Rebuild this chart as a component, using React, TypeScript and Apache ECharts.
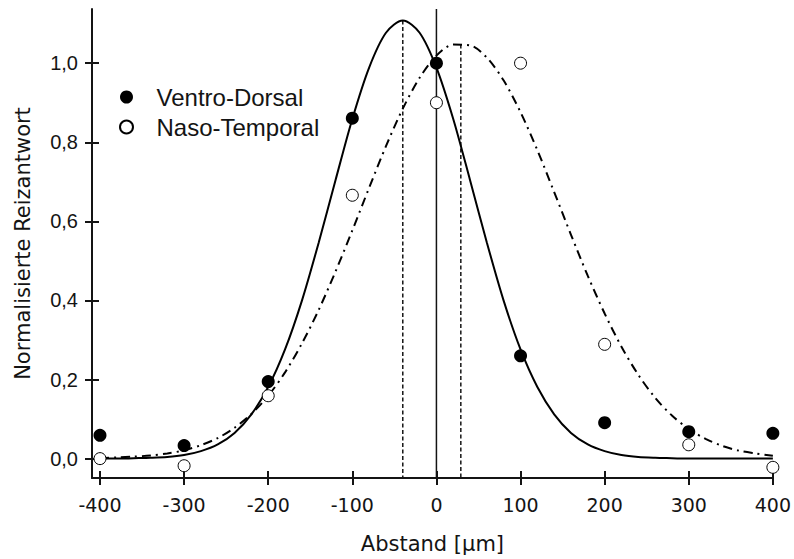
import React, { useEffect, useRef } from "react";
import * as echarts from "echarts";

// Measured responses at each stimulus offset (µm)
const offsets = [-400, -300, -200, -100, 0, 100, 200, 300, 400];
const ventroDorsal = [0.059, 0.033, 0.195, 0.861, 1.0, 0.26, 0.091, 0.068, 0.064];
const nasoTemporal = [0.0, -0.018, 0.159, 0.666, 0.9, 1.0, 0.289, 0.035, -0.022];

// Fitted tuning curves sampled every 20 µm
const fitX = [
  -400, -380, -360, -340, -320, -300, -280, -260, -240, -220, -200, -180, -160, -140,
  -120, -100, -80, -60, -40, -20, 0, 20, 40, 60, 80, 100, 120, 140, 160, 180, 200,
  220, 240, 260, 280, 300, 320, 340, 360, 380, 400,
];
const ventroDorsalFit = [
  0.0, 0.0, 0.001, 0.002, 0.004, 0.009, 0.019, 0.036, 0.065, 0.112, 0.181, 0.276,
  0.399, 0.546, 0.704, 0.859, 0.989, 1.077, 1.108, 1.077, 0.989, 0.859, 0.704, 0.546,
  0.399, 0.276, 0.181, 0.112, 0.065, 0.036, 0.019, 0.009, 0.004, 0.002, 0.001, 0.0,
  0.0, 0.0, 0.0, 0.0, 0.0,
];
const nasoTemporalFit = [
  0.001, 0.003, 0.005, 0.008, 0.013, 0.021, 0.034, 0.052, 0.078, 0.113, 0.159, 0.218,
  0.291, 0.376, 0.473, 0.577, 0.685, 0.79, 0.885, 0.963, 1.019, 1.047, 1.045, 1.014,
  0.956, 0.876, 0.78, 0.674, 0.566, 0.462, 0.367, 0.283, 0.212, 0.154, 0.109, 0.075,
  0.05, 0.032, 0.02, 0.013, 0.007,
];

// Peaks of the two fits
const peakVentroDorsal = [-40, 1.108];
const peakNasoTemporal = [29, 1.047];

// Axis ranges and tick values
const xRange = [-409.5, 400];
const yRange = [-0.049, 1.137];
const xTicks = [-400, -300, -200, -100, 0, 100, 200, 300, 400];
const yTicks = [0, 0.2, 0.4, 0.6, 0.8, 1.0];

const INK = "#141414";
const TITLE_FONT = "DejaVu Sans";

export default function App() {
  const ref = useRef<HTMLDivElement>(null);

  useEffect(() => {
    if (!ref.current) return;
    const chart = echarts.init(ref.current, null, { renderer: "svg" });

    const pair = (xs: number[], ys: number[]) => xs.map((x, i) => [x, ys[i]]);
    const axisLineStyle = { color: INK, width: 2 };

    const xBase = {
      type: "value" as const,
      min: xRange[0],
      max: xRange[1],
      position: "bottom" as const,
      splitLine: { show: false },
    };
    const yBase = {
      type: "value" as const,
      min: yRange[0],
      max: yRange[1],
      position: "left" as const,
      splitLine: { show: false },
    };

    chart.setOption({
      animation: false,
      backgroundColor: "#ffffff",
      grid: { left: 92, right: 20, top: 9, bottom: 81, containLabel: false },
      legend: {
        data: ["Ventro-Dorsal", "Naso-Temporal"],
        orient: "vertical",
        left: 119,
        top: 85,
        padding: 0,
        itemWidth: 50,
        itemHeight: 13,
        itemGap: 6,
        selectedMode: false,
        textStyle: {
          fontFamily: "Liberation Sans",
          fontSize: 24,
          lineHeight: 23,
          color: INK,
        },
      },
      xAxis: [
        {
          ...xBase,
          name: "Abstand [\u03bcm]",
          nameLocation: "middle",
          nameGap: 55,
          nameTextStyle: { fontFamily: TITLE_FONT, fontSize: 21, color: INK },
          axisLine: { show: true, onZero: false, lineStyle: axisLineStyle },
          axisTick: {
            show: true,
            inside: false,
            length: 7,
            customValues: xTicks,
            lineStyle: axisLineStyle,
          },
          axisLabel: {
            customValues: xTicks,
            fontFamily: TITLE_FONT,
            fontSize: 19,
            color: INK,
            margin: 17,
          },
        },
        {
          ...xBase,
          axisLine: { show: false, onZero: false },
          axisTick: {
            show: true,
            inside: true,
            length: 7,
            customValues: xTicks,
            lineStyle: axisLineStyle,
          },
          axisLabel: { show: false },
        },
      ],
      yAxis: [
        {
          ...yBase,
          name: "Normalisierte Reizantwort",
          nameLocation: "middle",
          nameGap: 59,
          nameTextStyle: { fontFamily: TITLE_FONT, fontSize: 21, color: INK },
          axisLine: { show: true, onZero: false, lineStyle: axisLineStyle },
          axisTick: {
            show: true,
            inside: false,
            length: 7,
            customValues: yTicks,
            lineStyle: axisLineStyle,
          },
          axisLabel: {
            customValues: yTicks,
            fontFamily: "Liberation Sans",
            fontSize: 20,
            color: INK,
            margin: 14,
            formatter: (v: number) => v.toFixed(1).replace(".", ","),
          },
        },
        {
          ...yBase,
          axisLine: { show: false, onZero: false },
          axisTick: {
            show: true,
            inside: true,
            length: 7,
            customValues: yTicks,
            lineStyle: axisLineStyle,
          },
          axisLabel: { show: false },
        },
      ],
      series: [
        {
          name: "Nullinie",
          type: "line",
          data: [
            [0, yRange[0]],
            [0, yRange[1]],
          ],
          showSymbol: false,
          silent: true,
          lineStyle: { color: INK, width: 1.5 },
          z: 1,
        },
        {
          name: "Maximum VD",
          type: "line",
          data: [
            [peakVentroDorsal[0], peakVentroDorsal[1]],
            [peakVentroDorsal[0], yRange[0]],
          ],
          showSymbol: false,
          silent: true,
          lineStyle: { color: INK, width: 1.5, type: [4, 2.5] },
          z: 1,
        },
        {
          name: "Maximum NT",
          type: "line",
          data: [
            [peakNasoTemporal[0], peakNasoTemporal[1]],
            [peakNasoTemporal[0], yRange[0]],
          ],
          showSymbol: false,
          silent: true,
          lineStyle: { color: INK, width: 1.5, type: [4, 2.5] },
          z: 1,
        },
        {
          name: "Fit VD",
          type: "line",
          data: pair(fitX, ventroDorsalFit),
          showSymbol: false,
          smooth: 0.3,
          silent: true,
          lineStyle: { color: "#000", width: 2 },
          z: 2,
        },
        {
          name: "Fit NT",
          type: "line",
          data: pair(fitX, nasoTemporalFit),
          showSymbol: false,
          smooth: 0.3,
          silent: true,
          lineStyle: { color: "#000", width: 2, type: [9, 5, 2, 5] },
          z: 2,
        },
        {
          name: "Ventro-Dorsal",
          type: "scatter",
          data: pair(offsets, ventroDorsal),
          symbol: "circle",
          symbolSize: 13,
          itemStyle: { color: "#000", borderColor: "#000", borderWidth: 0, opacity: 1 },
          z: 4,
        },
        {
          name: "Naso-Temporal",
          type: "scatter",
          data: pair(offsets, nasoTemporal),
          symbol: "circle",
          symbolSize: 12,
          itemStyle: { color: "#fff", borderColor: "#000", borderWidth: 1, opacity: 1 },
          z: 5,
        },
      ],
    });

    return () => chart.dispose();
  }, []);

  return (
    <div
      ref={ref}
      style={{ position: "fixed", left: 0, top: 0, width: 794, height: 559 }}
    />
  );
}
